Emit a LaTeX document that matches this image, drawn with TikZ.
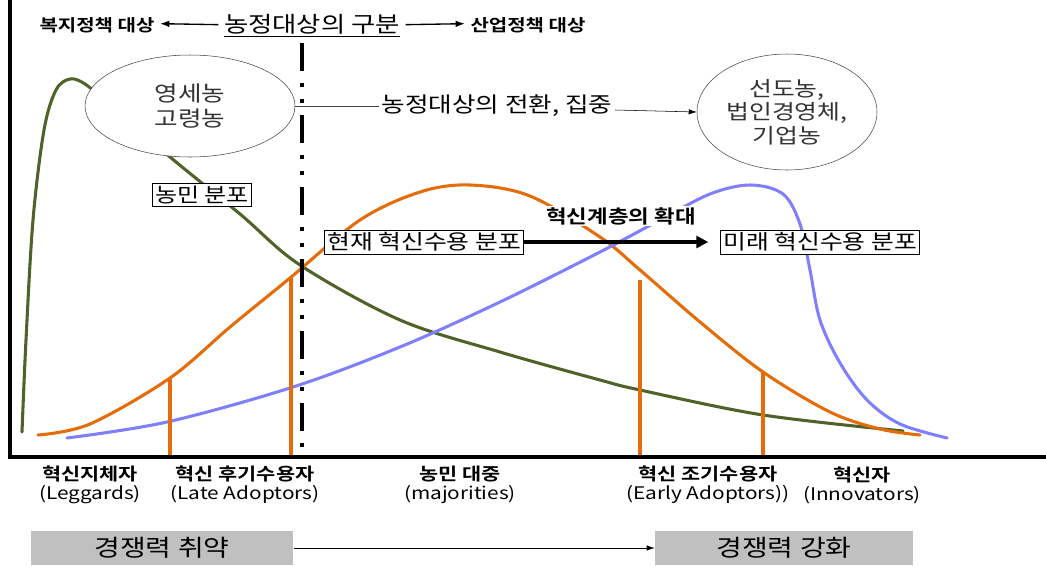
\documentclass[tikz,border=0pt]{standalone}
\usepackage{fontspec}
\setmainfont[FakeStretch=1.2,BoldFont={Noto Sans CJK KR Bold}]{Noto Sans CJK KR}
\usetikzlibrary{arrows.meta,shapes.geometric}
\definecolor{grn}{RGB}{79,98,40}
\definecolor{org}{RGB}{228,108,10}
\definecolor{blu}{RGB}{128,128,255}
\definecolor{gbox}{RGB}{192,192,192}
\definecolor{edge}{RGB}{70,70,70}
\newcommand{\fs}[1]{\fontsize{#1}{#1}\selectfont}
\begin{document}
\begin{tikzpicture}[x=0.75pt,y=-0.75pt,
  curve/.style={line width=2.3pt, line cap=round},
  vbar/.style={draw=org, line width=2.3pt},
  boxed/.style={draw, thin, fill=white, inner sep=2pt},
  oval/.style={draw=edge, thin, fill=white, ellipse, inner sep=0pt},
  bottomlbl/.style={align=center, inner sep=0pt, font=\fontsize{13}{14.3}\selectfont},
  toplbl/.style={inner sep=0pt, font=\fs{12.5}\bfseries},
  gray/.style={fill=gbox, minimum width=197pt, minimum height=26pt, inner sep=0pt, font=\fs{17.5}},
  divider/.style={line width=3.4pt}
]
\useasboundingbox (0,0) rectangle (1046,565);

% curves
\draw[curve, grn] plot[smooth, tension=0.55] coordinates {(22,432) (26,340) (33,220) (44,130) (56,90) (70,79) (85,84) (110,105) (170,157) (240,214) (300,265) (400,320) (500,352) (600,380) (640,390) (763,415) (903,431)};
\draw[curve, org] plot[smooth, tension=0.55] coordinates {(38,435) (90,424) (170,378) (230,327) (290,278) (360,220) (420,192) (470,185) (530,196) (600,237) (640,270) (700,322) (763,372) (830,412) (880,429) (920,435)};
\draw[curve, blu] plot[smooth, tension=0.55] coordinates {(67,438) (167,422) (293,387) (400,347) (500,302) (600,252) (660,220) (710,194) (750,185) (783,194) (800,224) (810,270) (820,320) (840,363) (867,400) (900,424) (947,438)};

% orange dividers
\coordinate (b1) at (170,378); \coordinate (b1b) at (170,457);
\coordinate (b2) at (291,278); \coordinate (b2b) at (291,457);
\coordinate (b3) at (640,280); \coordinate (b3b) at (640,457);
\coordinate (b4) at (763,372); \coordinate (b4b) at (763,455);
\draw[vbar] (b1) -- (b1b);
\draw[vbar] (b2) -- (b2b);
\draw[vbar] (b3) -- (b3b);
\draw[vbar] (b4) -- (b4b);

% dash-dot-dot divider, drawn segment by segment
\begin{scope}
\clip (290,40) rectangle (314,455);
\foreach \i in {0,...,5}{
  \pgfmathsetmacro{\ya}{43+72*\i}
  \draw[divider] (302,\ya) -- (302,\ya+28);
  \draw[divider] (302,\ya+40) -- (302,\ya+44);
  \draw[divider] (302,\ya+56) -- (302,\ya+60);
}
\end{scope}

% axes
\coordinate (origin) at (10,457);
\coordinate (ytop) at (10,0);
\coordinate (xend) at (1046,457);
\draw[line width=2.3pt] (ytop) -- (origin) -- (xend);

% top labels
\node[inner sep=0pt, font=\fs{16.5}] (title) at (312,26) {\underline{농정대상의 구분}};
\node[toplbl] (welfare) at (97,25) {복지정책 대상};
\node[toplbl] (industry) at (528,25) {산업정책 대상};
\draw[line width=1pt, -{Latex[length=7pt,width=5pt]}] ([xshift=-4pt,yshift=1pt]title.west) -- ([xshift=4pt,yshift=1pt]welfare.east);
\draw[line width=1pt, -{Latex[length=7pt,width=5pt]}] ([xshift=4pt,yshift=1pt]title.east) -- ([xshift=-4pt,yshift=1pt]industry.west);

% ellipses
\node[oval, minimum width=157.5pt, minimum height=76.5pt, align=center, font=\fontsize{16}{19}\selectfont, text=black!80] (small) at (190,106) {영세농\\고령농};
\node[oval, minimum width=135pt, minimum height=87pt, align=center, font=\fontsize{15.5}{17.5}\selectfont, text=black!80] (lead) at (787,112) {선도농,\\법인경영체,\\기업농};

\node[inner sep=2pt, font=\fs{16}] (shift) at (497,106) {농정대상의 전환, 집중};
\draw[edge, thin] (small.east) -- (shift.west);
\draw[thin, -{Latex[length=6pt,width=4pt]}] ([yshift=-3pt]shift.east) -- (lead.west);

% boxes
\node[boxed, font=\fs{15}] (farmer) at (202,195) {농민 분포};
\node[boxed, font=\fs{15.5}] (now) at (424,242) {현재 혁신수용 분포};
\node[boxed, font=\fs{15.5}] (future) at (820,242) {미래 혁신수용 분포};
\draw[line width=3pt, -{Triangle[length=9pt,width=9pt]}] (now.east) -- ([xshift=-9pt]future.west);
\node[inner sep=1pt, fill=white, font=\fs{14}\bfseries] (expand) at (621,216) {혁신계층의 확대};

% bottom labels
\node[bottomlbl] (l1) at (90,485) {\textbf{혁신지체자}\\(Leggards)};
\node[bottomlbl] (l2) at (245,485) {\textbf{혁신 후기수용자}\\(Late Adoptors)};
\node[bottomlbl] (l3) at (460,485) {\textbf{농민 대중}\\(majorities)};
\node[bottomlbl] (l4) at (708,485) {\textbf{혁신 조기수용자}\\(Early Adoptors))};
\node[bottomlbl] (l5) at (862,485) {\textbf{혁신자}\\(Innovators)};

% competitiveness
\node[gray] (weak) at (162,548) {경쟁력 취약};
\node[gray, minimum width=193.5pt] (strong) at (784,548) {경쟁력 강화};
\draw[thin, -{Latex[length=6pt,width=4pt]}] (weak.east) -- (strong.west);
\end{tikzpicture}
\end{document}
